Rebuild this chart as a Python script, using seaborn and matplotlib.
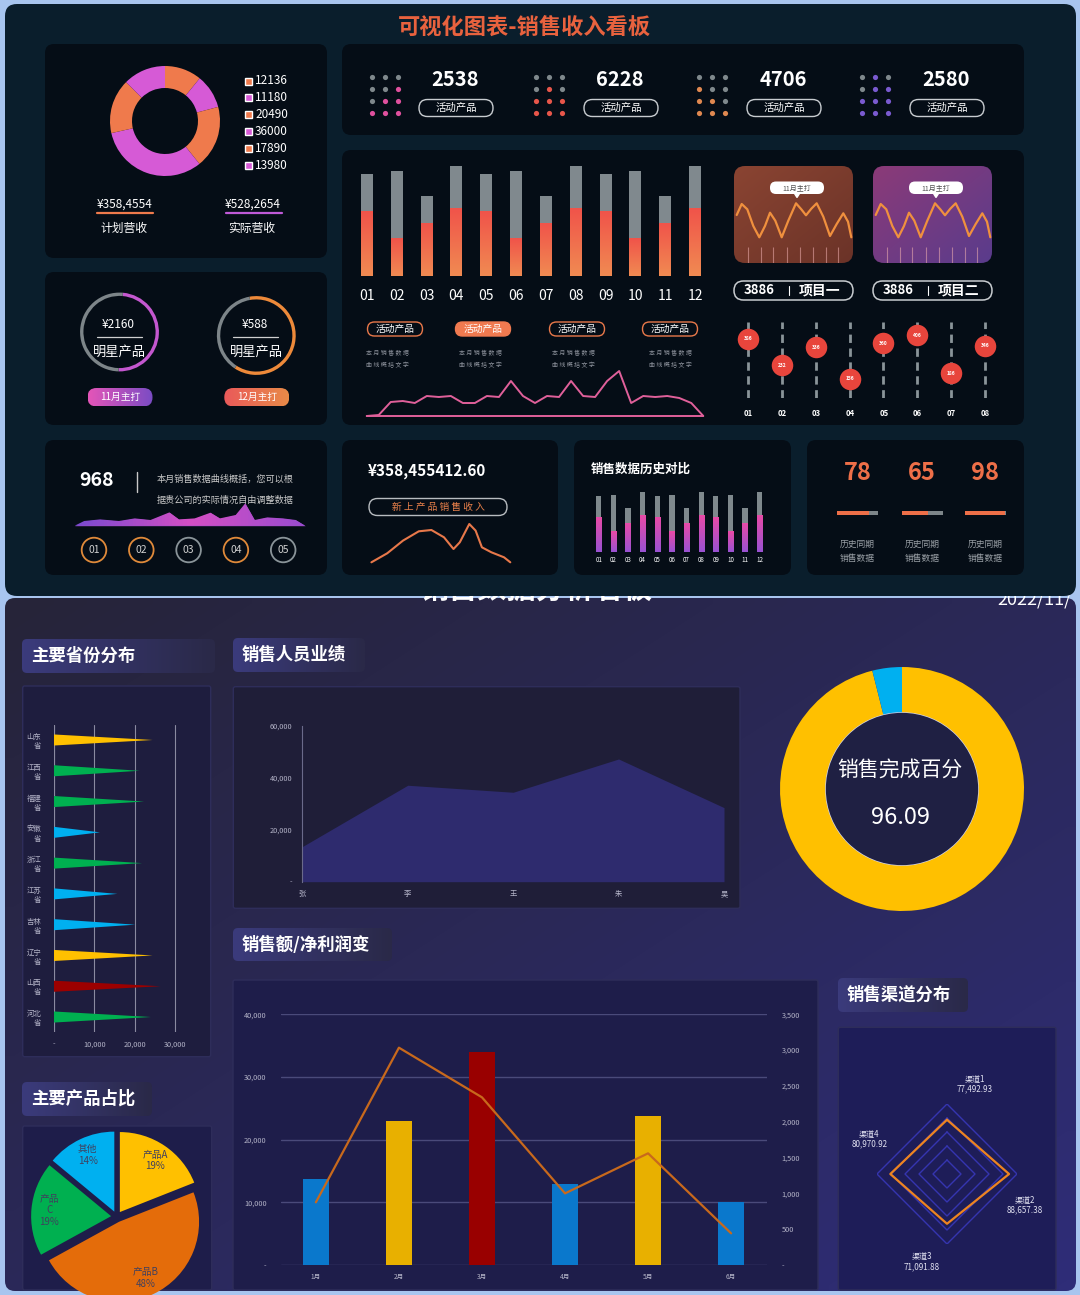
import numpy as np
import pandas as pd
import matplotlib
matplotlib.use("Agg")
import matplotlib.pyplot as plt
import seaborn as sns
from matplotlib.patches import FancyBboxPatch, Circle, Rectangle, Polygon
from matplotlib.colors import LinearSegmentedColormap

# ---------------- data ----------------
donut_vals = [12136, 11180, 20490, 36000, 17890, 13980]
plan_rev, real_rev = "¥358,4554", "¥528,2654"

stat_vals = [2538, 6228, 4706, 2580]
dot_patterns = [
    [[0, 0, 0], [0, 0, 1], [0, 1, 1], [1, 1, 1]],
    [[0, 0, 0], [0, 1, 0], [1, 1, 1], [1, 1, 1]],
    [[0, 0, 0], [1, 0, 0], [1, 1, 0], [1, 1, 1]],
    [[0, 1, 0], [0, 1, 1], [1, 1, 1], [1, 1, 1]],
]

months12 = ["01", "02", "03", "04", "05", "06", "07", "08", "09", "10", "11", "12"]
bar_total = [102, 105, 80, 110, 102, 105, 80, 110, 102, 105, 80, 110]
bar_part = [65, 38, 53, 68, 65, 38, 53, 68, 65, 38, 53, 68]
trend_vals = [0, 1, 14, 15, 13, 20, 19, 20, 13, 13, 20, 19, 35, 20, 13,
              20, 19, 35, 20, 19, 35, 45, 13, 20, 19, 20, 18, 13, 0]

wave_x = [2.7, 7.7, 13.3, 19.3, 25.3, 31, 36, 41.3, 47.7, 54.3, 62, 67.3,
          72, 77.3, 82.7, 89.3, 96, 102.7, 109.3, 114, 117.3]
wave_y = [48, 59, 53.7, 37, 25.7, 37, 50.3, 42.3, 25.7, 42.3, 59.7, 53.7,
          47.7, 54.3, 59.7, 46.3, 27, 39, 49.7, 41.3, 25.7]
card_ticks = [14.3, 26.7, 39.3, 52.7, 66, 78.7, 92, 104.3]

slider_names = ["01", "02", "03", "04", "05", "06", "07", "08"]
slider_vals = [386, 232, 336, 156, 360, 406, 186, 346]

gauge_share = [0.49, 0.62]

wave5_x = [0, 9.5, 25.3, 44.2, 60, 75.8, 94.7, 104.2, 120, 135.8, 145.2,
           161, 170.5, 179.9, 192.6, 208.3, 221, 230.5]
wave5_y = [0, 4.7, 6.3, 4.7, 7.3, 5.7, 13.3, 6.3, 7.3, 13, 7.3, 10.7,
           22.3, 5.7, 8.3, 7.3, 5.7, 0]
circle_names = ["01", "02", "03", "04", "05"]

curve6_x = [0, 15.8, 31.6, 47.4, 60, 72.6, 82.1, 88.4, 97.9, 104.2, 110.5, 120, 132.6, 138.9]
curve6_y = [0, 9, 21.7, 31, 32.3, 25, 13.3, 20, 38.3, 31.7, 15, 10, 5, 0]

hist_vals = [78, 65, 98]

provinces = ["山东省", "江西省", "福建省", "安徽省", "浙江省",
             "江苏省", "吉林省", "辽宁省", "山西省", "河北省"]
province_vals = [24400, 21200, 22300, 11400, 21800, 15700, 20100, 24400, 26400, 24000]
province_colors = ["#ffc000", "#00b050", "#00b050", "#00b0f0", "#00b050",
                   "#00b0f0", "#00b0f0", "#ffc000", "#9c0000", "#00b050"]

sellers = ["张", "李", "王", "朱", "吴"]
seller_vals = [13500, 37100, 34400, 47200, 28500]

done_pct = 96.09

combo_months = ["1月", "2月", "3月", "4月", "5月", "6月"]
combo_sales = [13800, 23000, 34000, 13000, 23700, 10050]
combo_profit = [875, 3034, 2341, 1000, 1559, 442]
combo_colors = ["#0a78cc", "#e8b000", "#990000", "#0a78cc", "#e8b000", "#0a78cc"]

channels = ["渠道1", "渠道2", "渠道3", "渠道4"]
channel_vals = [77492.93, 88657.38, 71091.88, 80970.92]

products = ["产品A", "产品B", "产品C", "其他"]
product_share = [19, 48, 19, 14]
product_colors = ["#ffc000", "#e46c0a", "#00b050", "#00b0f0"]

# ---------------- setup ----------------
sns.set_theme(style="dark")
plt.rcParams["font.family"] = ["Noto Sans CJK SC", "DejaVu Sans"]
plt.rcParams["axes.unicode_minus"] = False

W, H = 1080, 1295
fig = plt.figure(figsize=(W / 100, H / 100), dpi=100)
fig.patch.set_facecolor("#a8c5ef")
bg = fig.add_axes([0, 0, 1, 1])
bg.set_axis_off()


def ax_at(x0, y0, x1, y1, **kw):
    ax = fig.add_axes([x0 / W, 1 - y1 / H, (x1 - x0) / W, (y1 - y0) / H], **kw)
    ax.patch.set_alpha(0)
    return ax


def rbox(x0, y0, x1, y1, fc, r=8, ec="none", lw=1.0, z=3):
    r = min(r, (y1 - y0) / 2 - 0.05, (x1 - x0) / 2 - 0.05)
    p = FancyBboxPatch((x0 + r, y0 + r), x1 - x0 - 2 * r, y1 - y0 - 2 * r,
                       boxstyle=f"round,pad={r}", fc=fc, ec=ec, lw=lw, zorder=z)
    bg.add_patch(p)
    return p


def gradient(x0, y0, x1, y1, c0, c1, clip=None, z=3, mode="h"):
    n = 64
    if mode == "d":
        gx, gy = np.meshgrid(np.linspace(0, 1, n), np.linspace(0, 1, n))
        arr = (gx + gy) / 2
    elif mode == "h":
        arr = np.tile(np.linspace(0, 1, n), (2, 1))
    else:
        arr = np.tile(np.linspace(0, 1, n)[:, None], (1, 2))
    cmap = LinearSegmentedColormap.from_list("g", [c0, c1])
    im = bg.imshow(arr, cmap=cmap, extent=(x0, x1, y1, y0), aspect="auto",
                   zorder=z, interpolation="bilinear")
    if clip is not None:
        im.set_clip_path(clip)
    return im


def bar_gradient(ax, bars, c_top, c_bot):
    cmap = LinearSegmentedColormap.from_list("bg", [c_top, c_bot])
    for p in bars:
        x, w, h = p.get_x(), p.get_width(), p.get_height()
        im = ax.imshow(np.linspace(0, 1, 32)[:, None], cmap=cmap, extent=(x, x + w, 0, h),
                       aspect="auto", zorder=p.get_zorder() + 0.1, interpolation="bilinear")
        im.set_clip_path(p)


def txt(x, y, s, size=8, color="white", weight="normal", ha="center", va="center", z=6, **kw):
    return bg.text(x, y, s, fontsize=size, color=color, fontweight=weight,
                   ha=ha, va=va, zorder=z, **kw)


def pill(xc, yc, w, h, s, ec="#c8ccd0", fc="none", tc="white", size=7.5, lw=1.0):
    rbox(xc - w / 2, yc - h / 2, xc + w / 2, yc + h / 2, fc, r=h / 2, ec=ec, lw=lw, z=5)
    txt(xc, yc, s, size=size, color=tc)


# ---------------- frames ----------------
rbox(5, 4, 1076, 596, "#0a1e2c", r=12, z=2)
bottom_clip = rbox(5, 598, 1076, 1291, "none", r=10, z=1)
gradient(5, 598, 1076, 1291, "#262439", "#2f2d78", bottom_clip, z=1, mode="d")
txt(536, 598, "销售数据分析看板", size=21, weight="bold", va="baseline", z=1.5)
txt(1072, 605, "2022/11/", size=13, ha="right", va="baseline", z=1.5)

txt(524, 27, "可视化图表-销售收入看板", size=16, color="#e8623e", weight="bold")

panel = "#050d16"
for box in [(45, 44, 327, 258), (342, 44, 1024, 135), (342, 150, 1024, 425),
            (45, 272, 327, 425), (45, 440, 327, 575), (342, 440, 558, 575),
            (574, 440, 791, 575), (807, 440, 1024, 575)]:
    rbox(*box, panel, r=9, z=3)

ORANGE, PINK, GRAY = "#ef7a4c", "#d65ad6", "#80898e"

# ---------------- P1 donut ----------------
ax1 = ax_at(110, 66, 220, 176)
ax1.pie(donut_vals, colors=[ORANGE, PINK] * 3, startangle=90, counterclock=False,
        wedgeprops=dict(width=0.4, edgecolor="none"))
ax1.set_xlim(-1, 1); ax1.set_ylim(-1, 1)
for i, v in enumerate(donut_vals):
    y = 81 + i * 16.9
    bg.add_patch(Rectangle((245, y - 3.5), 7, 7, fc=[ORANGE, PINK][i % 2], zorder=5))
    txt(255, y, str(v), size=8.5, ha="left")
txt(125, 204, plan_rev, size=8.5)
bg.plot([97, 153], [213.3, 213.3], color=ORANGE, lw=1.6, zorder=5)
txt(124, 228.5, "计划营收", size=8.5)
txt(253, 204, real_rev, size=8.5)
bg.plot([226, 282], [213.3, 213.3], color="#c05ad8", lw=1.6, zorder=5)
txt(252, 228.5, "实际营收", size=8.5)

# ---------------- P2 stats ----------------
dot_colors = ["#e0509e", "#e8564a", "#e08850", "#7a5ad0"]
dot_x0 = [372, 536, 699, 862]
num_x = [455, 620, 783, 946]
for g in range(4):
    pat = np.array(dot_patterns[g])
    for r in range(4):
        for c in range(3):
            bg.scatter(dot_x0[g] + c * 13, 77 + r * 12, s=14, zorder=5, lw=0,
                       color=dot_colors[g] if pat[r, c] else "#7f888c")
    txt(num_x[g], 80, str(stat_vals[g]), size=14.5, weight="bold")
    pill(num_x[g] + 1, 108, 74, 17, "活动产品", size=7.5)

# ---------------- P3 stacked bars ----------------
ax3 = ax_at(352, 160, 710, 276)
sns.barplot(x=months12, y=bar_total, color=GRAY, width=0.4, saturation=1, linewidth=0, ax=ax3)
sns.barplot(x=months12, y=bar_part, color="#f06a4c", width=0.4, saturation=1, linewidth=0, ax=ax3)
bar_gradient(ax3, ax3.containers[1], "#f0544a", "#f08a52")
ax3.set_xlim(-0.5, 11.5); ax3.set_ylim(0, 116)
ax3.set_yticks([])
ax3.tick_params(axis="x", colors="white", labelsize=10, pad=9, length=0)
ax3.set_xlabel(""); ax3.set_ylabel("")
sns.despine(ax=ax3, left=True, bottom=True)

pill_x = [395, 483, 577, 670]
for i, px in enumerate(pill_x):
    if i == 1:
        pill(px, 329, 55, 14, "活动产品", ec="#f07a50", fc="#f07a50", size=7)
    else:
        pill(px, 329, 55, 14, "活动产品", ec="#e8784a", size=7)
    tx = [387, 480, 573, 670][i]
    txt(tx, 353, "本 月 销 售 数 据", size=4.3, color="#8a8f99")
    txt(tx, 365, "曲 线 概 括 文 字", size=4.3, color="#8a8f99")

ax3b = ax_at(366.7, 366, 703.3, 416)
ax3b.plot(range(len(trend_vals)), trend_vals, color="#e0609a", lw=1.4, clip_on=False)
ax3b.plot([0, len(trend_vals) - 1], [0, 0], color="#e0609a", lw=1.4, clip_on=False)
ax3b.set_xlim(0, len(trend_vals) - 1); ax3b.set_ylim(0, 50)
ax3b.set_axis_off()

# cards
for cx0, c0, c1, lbl in [(734, "#8a4432", "#6b3328", "项目一"), (873, "#8b3a78", "#5a3c8c", "项目二")]:
    card = rbox(cx0, 166, cx0 + 119, 263, "none", r=11, z=4)
    gradient(cx0, 166, cx0 + 119, 263, c0, c1, card, z=4, mode="d")
    axw = ax_at(cx0, 166, cx0 + 119, 263)
    axw.plot(wave_x, wave_y, color="#f0903e", lw=1.6, solid_joinstyle="round")
    axw.vlines(card_ticks, 0, 16, color="#f0b0b0", lw=0.8, alpha=0.55)
    axw.set_xlim(0, 119); axw.set_ylim(0, 97)
    axw.set_axis_off()
    bx = cx0 + 63
    rbox(bx - 27, 181.5, bx + 27, 194, "white", r=6, z=6)
    bg.add_patch(Polygon([[bx - 2.5, 193.5], [bx + 2.5, 193.5], [bx, 197.5]], fc="white", zorder=6))
    txt(bx, 188, "11月主打", size=5, color="#505050", z=7)
    rbox(cx0, 281, cx0 + 119, 300, "none", r=9.5, ec="#c8ccd0", lw=1.1, z=5)
    txt(cx0 + 25, 290.5, "3886", size=9.5, weight="bold")
    bg.plot([cx0 + 55, cx0 + 55], [286, 295], color="white", lw=0.8, zorder=6)
    txt(cx0 + 86, 290.5, lbl, size=10, weight="bold")

axs = ax_at(731, 321.7, 1002, 398.3)
axs.vlines(range(8), 43, 484, color="#8a9499", lw=2, linestyles=(0, (3, 2)))
axs.scatter(range(8), slider_vals, s=240, color="#e8453c", zorder=3, lw=0)
for i, v in enumerate(slider_vals):
    axs.text(i, v, str(v), fontsize=3.5, color="white", ha="center", va="center",
             fontweight="bold", zorder=4)
axs.set_xlim(-0.5, 7.5); axs.set_ylim(43, 484)
axs.set_axis_off()
for i, nm in enumerate(slider_names):
    txt(748.3 + i * 33.87, 413, nm, size=5.5, weight="bold")

# ---------------- P4 gauges ----------------
for (cx, cy), share, col, money, tag, pc0, pc1, start in [
        ((119.5, 332), gauge_share[0], "#c457cf", "¥2160", "11月主打", "#e455b8", "#7b4cc4", 85),
        ((256.3, 335.5), gauge_share[1], "#ee8a3a", "¥588", "12月主打", "#ea5a5a", "#e88a48", 100)]:
    axg = ax_at(cx - 41, cy - 41, cx + 41, cy + 41)
    axg.pie([share, 1 - share], colors=[col, "#7d8589"], startangle=start, counterclock=False,
            wedgeprops=dict(width=0.085, edgecolor="none"))
    axg.set_xlim(-1.04, 1.04); axg.set_ylim(-1.04, 1.04)
    txt(cx - 1, 324.3, money, size=8.5)
    bg.plot([cx - 23, cx + 22], [336.5, 336.5], color="#d0d0d0", lw=0.9, zorder=5)
    txt(cx, 352.7, "明星产品", size=9.5)
    pbox = rbox(cx - 32, 388, cx + 33, 406.5, "none", r=9, z=5)
    gradient(cx - 32, 388, cx + 33, 406.5, pc0, pc1, pbox, z=5)
    txt(cx + 1, 397, tag, size=7, z=7)

# ---------------- P5 ----------------
txt(96, 481, "968", size=14, weight="bold")
bg.plot([136.6, 136.6], [471.7, 492.3], color="#c8c8c8", lw=1, zorder=5)
txt(157, 479.3, "本月销售数据曲线概括，您可以根", size=6.6, color="#c8c8c8", ha="left")
txt(157, 500, "据贵公司的实际情况自由调整数据", size=6.6, color="#c8c8c8", ha="left")
ax5 = ax_at(74.7, 500, 305.2, 525.7)
poly = ax5.fill_between(wave5_x, wave5_y, color="#a04cc8", lw=0)
im5 = ax5.imshow(np.tile(np.linspace(0, 1, 64), (2, 1)),
                 cmap=LinearSegmentedColormap.from_list("p5", ["#7a4ad0", "#d54fc4", "#9a4cd0"]),
                 extent=(0, 230.5, 0, 25.7), aspect="auto", zorder=2)
im5.set_clip_path(poly.get_paths()[0], ax5.transData)
ax5.set_xlim(0, 230.5); ax5.set_ylim(0, 25.7)
ax5.set_axis_off()
ring_cols = ["#e08a3a", "#e08a3a", "#8a9499", "#e08a3a", "#8a9499"]
for i, nm in enumerate(circle_names):
    x = 94 + i * 47.3
    bg.add_patch(Circle((x, 550), 12.3, fc="none", ec=ring_cols[i], lw=1.3, zorder=5))
    txt(x, 550, nm, size=7.5, color="#d0d0d0")

# ---------------- P6 ----------------
txt(368, 470.7, "¥358,455412.60", size=11, weight="bold", ha="left")
pill(438, 507, 138, 17, "新 上 产 品 销 售 收 入", ec="#b8bcc0", tc="#e8804a", size=7)
ax6 = ax_at(371.4, 520, 510.3, 562.3)
ax6.plot(curve6_x, curve6_y, color="#e8784a", lw=1.5, clip_on=False)
ax6.set_xlim(0, 138.9); ax6.set_ylim(0, 42.3)
ax6.set_axis_off()

# ---------------- P7 ----------------
txt(590.5, 469.3, "销售数据历史对比", size=9, weight="bold", ha="left")
ax7 = ax_at(591.4, 490, 767, 552.3)
sns.barplot(x=months12, y=bar_total, color="#7f898d", width=0.36, saturation=1, linewidth=0, ax=ax7)
sns.barplot(x=months12, y=bar_part, color="#d64fb4", width=0.36, saturation=1, linewidth=0, ax=ax7)
bar_gradient(ax7, ax7.containers[1], "#ea4aa6", "#9a52d2")
ax7.set_xlim(-0.5, 11.5); ax7.set_ylim(0, 113.3)
ax7.set_yticks([])
ax7.tick_params(axis="x", colors="white", labelsize=4.5, pad=3, length=0)
ax7.set_xlabel(""); ax7.set_ylabel("")
sns.despine(ax=ax7, left=True, bottom=True)

# ---------------- P8 ----------------
for i, v in enumerate(hist_vals):
    x = [857.5, 922, 985][i]
    txt(x, 473.3, str(v), size=17, color="#ee6f48", weight="bold")
    axh = ax_at(x - 20.5, 511, x + 20.5, 515)
    axh.barh([0], [100], color="#7d8589", height=1, linewidth=0)
    axh.barh([0], [v], color="#ee6f48", height=1, linewidth=0)
    axh.set_xlim(0, 100); axh.set_ylim(-0.5, 0.5)
    axh.set_axis_off()
    txt(x, 544, "历史同期", size=6.3, color="#9aa0a6")
    txt(x, 558.3, "销售数据", size=6.3, color="#9aa0a6")

# ---------------- bottom: section labels & panels ----------------
for x0, y0, x1, y1, s in [(22, 639, 215, 673, "主要省份分布"), (233, 638, 365, 672, "销售人员业绩"),
                          (233, 928, 392, 961, "销售额/净利润变"), (838, 978, 968, 1012, "销售渠道分布"),
                          (22, 1082, 152, 1116, "主要产品占比")]:
    lb = rbox(x0, y0, x1, y1, "none", r=5, z=2)
    gradient(x0, y0, x1, y1, "#3b3b7c", "#2a2948", lb, z=2)
    txt(x0 + 9, (y0 + y1) / 2, s, size=12.5, weight="bold", ha="left", z=3)

BOT = 1290
for x0, y0, x1, y1, fc in [(22.7, 686, 210.7, 1056.7, "#1e1d3e"), (233.3, 686.7, 740, 908.3, "#1f1e38"),
                           (233, 980, 818, BOT, "#1e1d4a"), (838.3, 1027.3, 1056, BOT, "#1e1d58"),
                           (22.7, 1126, 211.7, BOT, "#1e1d4a")]:
    rbox(x0, y0, x1, y1, fc, r=2, ec="#2e2d5a", lw=1, z=2)

TICK = "#b4b4c8"

# provinces
axp = ax_at(53.7, 724.6, 200, 1032.4)
for i, (v, c) in enumerate(zip(province_vals, province_colors)):
    axp.fill([0, v, 0], [i - 0.18, i, i + 0.18], color=c, lw=0, zorder=3)
axp.set_xlim(0, 36100); axp.set_ylim(9.5, -0.5)
axp.set_xticks([0, 10000, 20000, 30000])
axp.set_xticklabels(["-", "10,000", "20,000", "30,000"])
axp.set_yticks(range(len(provinces)))
axp.set_yticklabels([p[:2] + "\n" + p[2:] for p in provinces])
axp.tick_params(colors=TICK, labelsize=5.3, length=0)
axp.tick_params(axis="x", pad=6)
axp.tick_params(axis="y", pad=9)
axp.grid(True, axis="x", color="#8a8aa0", lw=0.8)
axp.grid(False, axis="y")
for sp in axp.spines.values():
    sp.set_visible(False)
axp.axvline(0, color="#8a8aa0", lw=0.8)

# sellers area
axa = ax_at(302.3, 725.7, 724, 881.7)
axa.fill_between(range(len(sellers)), seller_vals, color="#2e2b6e", lw=0)
axa.set_xlim(0, 4); axa.set_ylim(0, 60000)
axa.set_xticks(range(len(sellers))); axa.set_xticklabels(sellers)
axa.set_yticks([0, 20000, 40000, 60000])
axa.set_yticklabels(["-", "20,000", "40,000", "60,000"])
axa.tick_params(colors=TICK, labelsize=5.3, length=0)
axa.tick_params(axis="x", pad=6)
axa.tick_params(axis="y", pad=7)
for k, sp in axa.spines.items():
    sp.set_visible(k == "left")
axa.spines["left"].set_color("#6a6a8a"); axa.spines["left"].set_linewidth(0.8)

# completion donut
axd = ax_at(780, 667, 1024, 911)
axd.pie([done_pct, 100 - done_pct], colors=["#ffc000", "#00b0f0"], startangle=90,
        counterclock=False, wedgeprops=dict(width=0.37, edgecolor="none"))
axd.set_xlim(-1, 1); axd.set_ylim(-1, 1)
bg.add_patch(Circle((902, 789), 77, fc="#1f2043", ec="#cfd0e6", lw=1.2, zorder=4))
txt(900, 770, "销售完成百分", size=15, z=6)
txt(901, 817, f"{done_pct:.2f}", size=17, z=6)

# combo chart
combo = pd.DataFrame({"month": combo_months, "sales": combo_sales, "profit": combo_profit})
axc = ax_at(280.5, 1014.3, 766.5, 1265)
sns.barplot(data=combo, x="month", y="sales", hue="month", palette=combo_colors,
            width=0.32, saturation=1, legend=False, linewidth=0, ax=axc)
axc.set_ylim(0, 40000)
axc.set_yticks([0, 10000, 20000, 30000, 40000])
axc.set_yticklabels(["-", "10,000", "20,000", "30,000", "40,000"])
axc.grid(True, axis="y", color="#4a4a7a", lw=1)
axc.set_axisbelow(True)
axc.tick_params(colors=TICK, labelsize=5.3, length=0)
axc.tick_params(axis="y", pad=10)
axc.tick_params(axis="x", pad=6, labelsize=4.8)
axc.set_xlabel(""); axc.set_ylabel("")
for sp in axc.spines.values():
    sp.set_visible(False)
axr = axc.twinx()
axr.patch.set_alpha(0)
sns.lineplot(x=np.arange(len(combo_months)), y=combo["profit"], color="#c8691c", lw=1.6, ax=axr)
axr.set_ylim(0, 3500)
axr.set_yticks(range(0, 3501, 500))
axr.set_yticklabels(["-", "500", "1,000", "1,500", "2,000", "2,500", "3,000", "3,500"])
axr.tick_params(colors=TICK, labelsize=5.3, length=0, pad=11)
axr.set_ylabel("")
axr.grid(False)
for sp in axr.spines.values():
    sp.set_visible(False)

# radar
axq = ax_at(877, 1104, 1017, 1244, projection="polar")
axq.set_theta_zero_location("N"); axq.set_theta_direction(-1)
ang = np.array([0, 0.5, 1, 1.5, 0]) * np.pi
for lvl in [20000, 40000, 60000, 80000, 100000]:
    axq.plot(ang, [lvl] * 5, color="#3535b0", lw=1)
axq.plot(ang, channel_vals + channel_vals[:1], color="#ee8420", lw=1.6)
axq.set_ylim(0, 100000)
axq.set_axis_off()
for (x, y), nm, v in zip([(975, 1079.3), (1025, 1200), (922, 1256.7), (869.3, 1134.3)],
                         channels, channel_vals):
    txt(x, y, nm, size=5.8, color="#e0e0f0")
    txt(x, y + 10, f"{v:,.2f}", size=5.8, color="#e0e0f0")

# product pie
axpie = ax_at(26.7, 1126.7, 206.7, 1306.7)
pclip = Rectangle((22.7, 1126), 189, BOT - 1126, fc="none", ec="none")
bg.add_patch(pclip)
labels = [f"{p}\n{s}%" for p, s in zip(products, product_share)]
labels[2] = f"产品\nC\n{product_share[2]}%"
wedges, texts = axpie.pie(product_share, labels=labels, colors=product_colors, startangle=90,
                          counterclock=False, explode=[0.07] * 4, labeldistance=0.78,
                          wedgeprops=dict(edgecolor="none"),
                          textprops=dict(fontsize=7, color="#40405e", ha="center", va="center"))
for w in wedges:
    w.set_clip_path(pclip)
for t in texts:
    t.set_clip_path(pclip)
axpie.set_xlim(-1.125, 1.125); axpie.set_ylim(-1.125, 1.125)

bg.set_xlim(0, W); bg.set_ylim(H, 0)
fig.savefig("out.png", dpi=100, facecolor=fig.get_facecolor())
